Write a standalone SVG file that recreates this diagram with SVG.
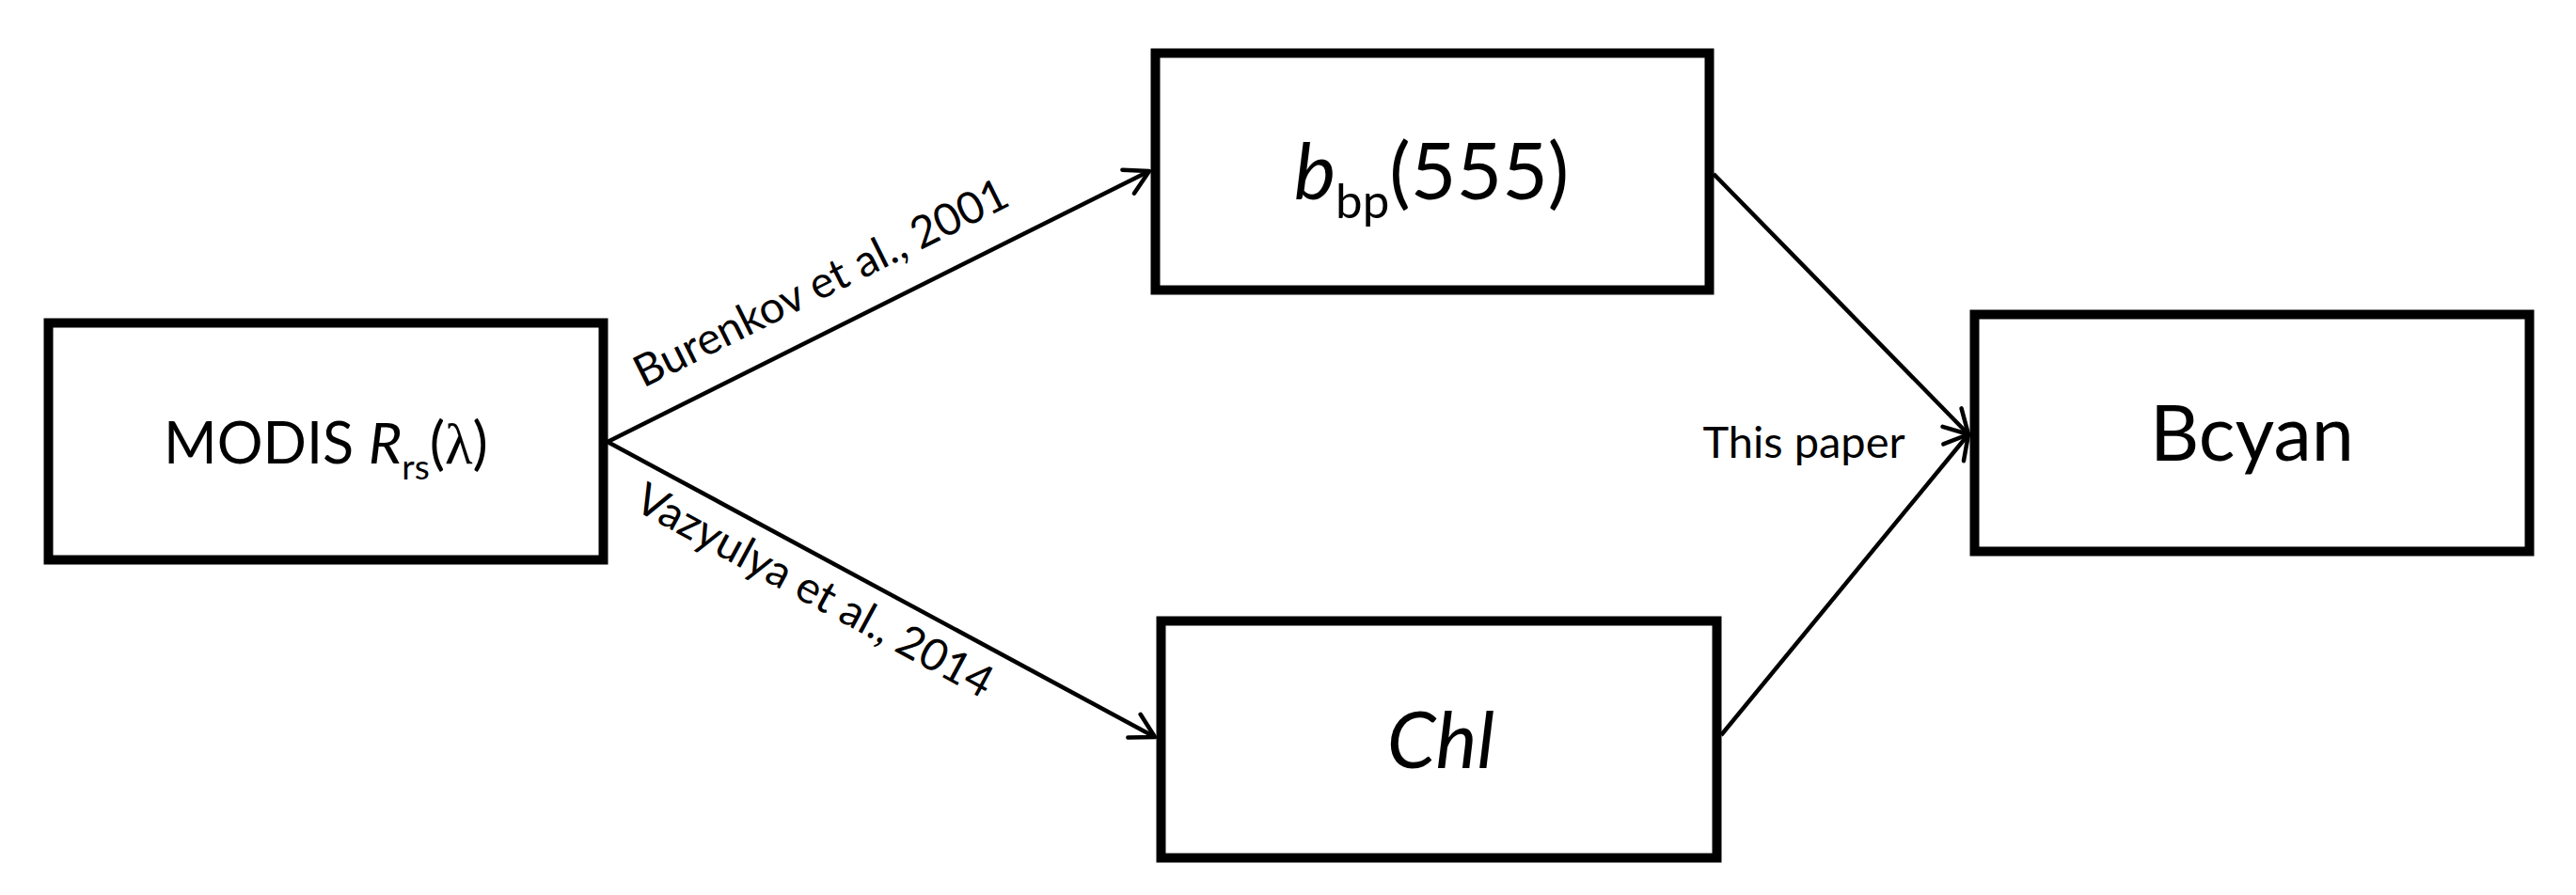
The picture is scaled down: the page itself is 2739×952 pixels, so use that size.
<svg xmlns="http://www.w3.org/2000/svg" width="2739" height="952" viewBox="0 0 2739 952">
<style>
.box{fill:#fff;stroke:#000;stroke-width:10}
.t{font-family:Lato,"Liberation Sans",sans-serif;fill:#000}
.lbl{font-family:Lato,"Liberation Sans",sans-serif;font-size:47px;fill:#000}
.conn{stroke:#000;stroke-width:4.5;fill:none;marker-end:url(#ah)}
</style>
<defs>
<marker id="ah" markerUnits="userSpaceOnUse" viewBox="-30 -20 34 40" refX="0" refY="0" markerWidth="34" markerHeight="40" orient="auto" overflow="visible">
<path d="M-25,-14 L0,0 L-25,14" fill="none" stroke="#000" stroke-width="4.5" stroke-linejoin="round" stroke-linecap="round"/>
</marker>
</defs>
<rect width="2739" height="952" fill="#fff"/>
<g id="connectors">
<line class="conn" x1="646" y1="470" x2="1222" y2="182"/>
<line class="conn" x1="646" y1="470" x2="1228" y2="784"/>
<line class="conn" x1="1822" y1="185" x2="2093" y2="462"/>
<line class="conn" x1="1830" y1="782" x2="2093" y2="462"/>
<text class="lbl" x="684" y="413" transform="rotate(-26.5 684 413)">Burenkov et al., 2001</text>
<text class="lbl" x="672" y="541" transform="rotate(28.5 672 541)">Vazyulya et al., 2014</text>
<text class="lbl" x="1918" y="487" text-anchor="middle">This paper</text>
</g>
<g id="modis">
<rect class="box" x="51.5" y="343.5" width="590" height="252"/>
<text class="t" x="346.5" y="493" text-anchor="middle" font-size="61">MODIS <tspan font-style="italic">R</tspan><tspan dy="17" font-size="37">rs</tspan><tspan dy="-17">(</tspan><tspan font-family="'Liberation Serif',serif">λ</tspan>)</text>
</g>
<g id="bbp">
<rect class="box" x="1228.5" y="56.5" width="589" height="252"/>
<text class="t" x="1522" y="212" text-anchor="middle" font-size="84"><tspan font-style="italic">b</tspan><tspan dy="20" font-size="51">bp</tspan><tspan dy="-20">(555)</tspan></text>
</g>
<g id="chl">
<rect class="box" x="1234.5" y="660.5" width="591" height="252"/>
<text class="t" x="1532" y="817" text-anchor="middle" font-size="83" font-style="italic">Chl</text>
</g>
<g id="bcyan">
<rect class="box" x="2099.5" y="334.5" width="590" height="252"/>
<text class="t" x="2394.5" y="490" text-anchor="middle" font-size="81">Bcyan</text>
</g>
</svg>
